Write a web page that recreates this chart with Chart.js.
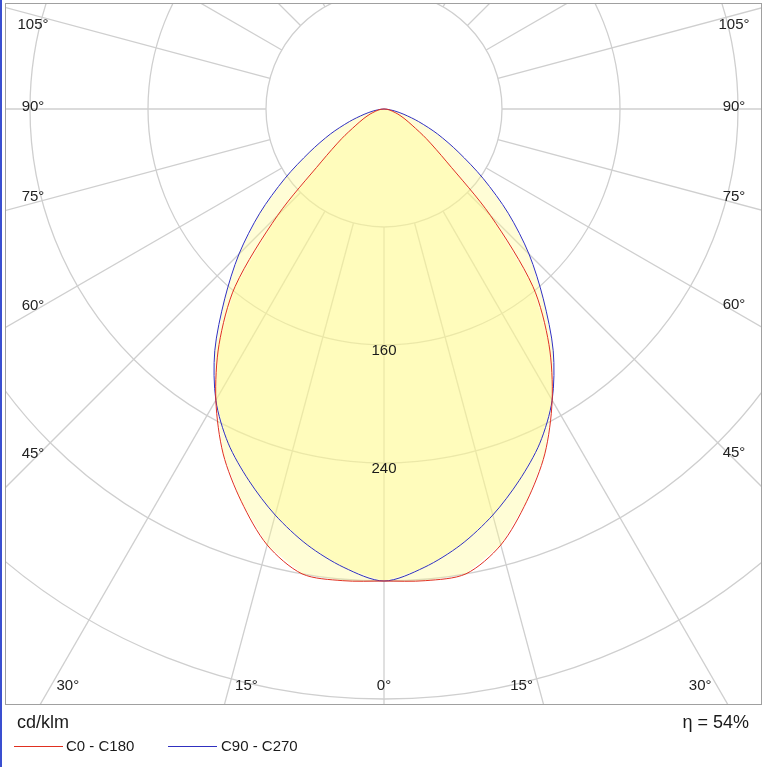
<!DOCTYPE html>
<html><head><meta charset="utf-8">
<script src="https://cdn.jsdelivr.net/npm/chart.js@4.4.1/dist/chart.umd.min.js"></script>
<style>
html,body{margin:0;padding:0;background:#fff;}
#wrap{position:relative;width:767px;height:767px;}
#bl{position:absolute;left:0;top:0;width:2px;height:767px;background:#3a4fd0;}
</style></head><body>
<div id="wrap"><canvas id="c" width="767" height="767"></canvas><div id="bl"></div></div>
<script>
const angles = [0,5,10,15,20,25,30,35,40,45,50,55,60,65,70,75,80,85,90];
const c0c180 = [320,321,320,306,283,258,228,195,157,102,55,35,22,15,10,6,4,2,0];
const c90c270 = [320,312,300,285,268,250,228,200,168,139,110,82,58,40,25,14,7,2,0];
const ringValues = [80,160,240,320,400];
const ringLabels = ["160","240"];
const angleLabels = [0,15,30,45,60,75,90,105];

function toXY(vals){
  const pts=[];
  for(let i=angles.length-1;i>=0;i--){const t=-angles[i]*Math.PI/180;pts.push({x:vals[i]*Math.sin(t),y:-vals[i]*Math.cos(t)});}
  for(let i=1;i<angles.length;i++){const t=angles[i]*Math.PI/180;pts.push({x:vals[i]*Math.sin(t),y:-vals[i]*Math.cos(t)});}
  return pts;
}
const FONT='"Liberation Sans", Arial, sans-serif';
const polar={
  id:'polar',
  beforeDatasetsDraw(ch){
    const {ctx,chartArea:a,scales:{x,y}}=ch;
    const cx=x.getPixelForValue(0), cy=y.getPixelForValue(0);
    const k=x.getPixelForValue(100)-cx;
    ctx.save();
    ctx.beginPath();ctx.rect(a.left,a.top,a.right-a.left,a.bottom-a.top);ctx.clip();
    ctx.strokeStyle='#cfcfcf';ctx.lineWidth=1.3;
    ringValues.forEach(v=>{ctx.beginPath();ctx.arc(cx,cy,v*k/100,0,Math.PI*2);ctx.stroke();});
    const r0=ringValues[0]*k/100;
    for(let d=0;d<360;d+=15){const t=d*Math.PI/180;const dx=Math.sin(t),dy=Math.cos(t);
      ctx.beginPath();ctx.moveTo(cx+dx*r0,cy+dy*r0);ctx.lineTo(cx+dx*2000,cy+dy*2000);ctx.stroke();}
    [0,1].forEach(i=>{const m=ch.getDatasetMeta(i).data;ctx.beginPath();
      m.forEach((p,j)=>{j?ctx.lineTo(p.x,p.y):ctx.moveTo(p.x,p.y);});ctx.closePath();
      ctx.fillStyle='rgba(255,250,140,0.36)';ctx.fill();});
    ctx.restore();
    ctx.save();
    ctx.strokeStyle='#a0a0a0';ctx.lineWidth=1;ctx.strokeRect(a.left+0.5,a.top+0.5,a.right-a.left-1,a.bottom-a.top-1);
    ctx.fillStyle='#1a1a1a';ctx.font='15px '+FONT;ctx.textAlign='center';ctx.textBaseline='middle';
    ringLabels.forEach(s=>{ctx.fillText(s,cx,cy+Number(s)*k/100+6);});
    ctx.fillStyle='#222';
    angleLabels.forEach(d=>{
      const t=d*Math.PI/180;
      [-1,1].forEach(sg=>{
        if(d===0&&sg>0)return;
        let px,py;
        const by=a.bottom-19;
        const bx=cx+sg*(by-cy)*Math.tan(t);
        if(d<45){px=d?bx-sg*17:bx;py=by;}
        else{const sx=sg<0?a.left+28:a.right-28;px=sx;
          if(d===90)py=cy-2;else py=cy+Math.abs(sx-cx)/Math.tan(t)+(d>90?10:-6);}
        ctx.fillText(d+'°',px,py);
      });
    });
    ctx.restore();
  },
  afterDraw(ch){
    const ctx=ch.ctx;ctx.save();ctx.fillStyle='#1a1a1a';ctx.textBaseline='middle';
    ctx.font='18px '+FONT;ctx.textAlign='left';ctx.fillText('cd/klm',17,723);
    ctx.textAlign='right';ctx.fillText('η = 54%',749,723);
    ctx.font='15px '+FONT;ctx.textAlign='left';
    ctx.lineWidth=1;
    ctx.strokeStyle='#e03020';ctx.beginPath();ctx.moveTo(14,746.5);ctx.lineTo(63,746.5);ctx.stroke();
    ctx.fillText('C0 - C180',66,747);
    ctx.strokeStyle='#3030c0';ctx.beginPath();ctx.moveTo(168,746.5);ctx.lineTo(217,746.5);ctx.stroke();
    ctx.fillText('C90 - C270',221,747);
    ctx.restore();
  }
};
const K=1.475;
new Chart(document.getElementById('c'),{
  type:'scatter',
  data:{datasets:[
    {label:'C0 - C180',data:toXY(c0c180),showLine:true,borderColor:'#e03020',borderWidth:1,pointRadius:0,tension:0.3,fill:false},
    {label:'C90 - C270',data:toXY(c90c270),showLine:true,borderColor:'#3030c0',borderWidth:1,pointRadius:0,tension:0.3,fill:false}
  ]},
  options:{responsive:false,animation:false,devicePixelRatio:1,
    layout:{padding:{left:5,right:5,top:3,bottom:62}},
    plugins:{legend:{display:false},tooltip:{enabled:false}},
    scales:{x:{display:false,min:-379/K,max:378/K},y:{display:false,min:-596/K,max:106/K}}
  },
  plugins:[polar]
});
</script></body></html>
